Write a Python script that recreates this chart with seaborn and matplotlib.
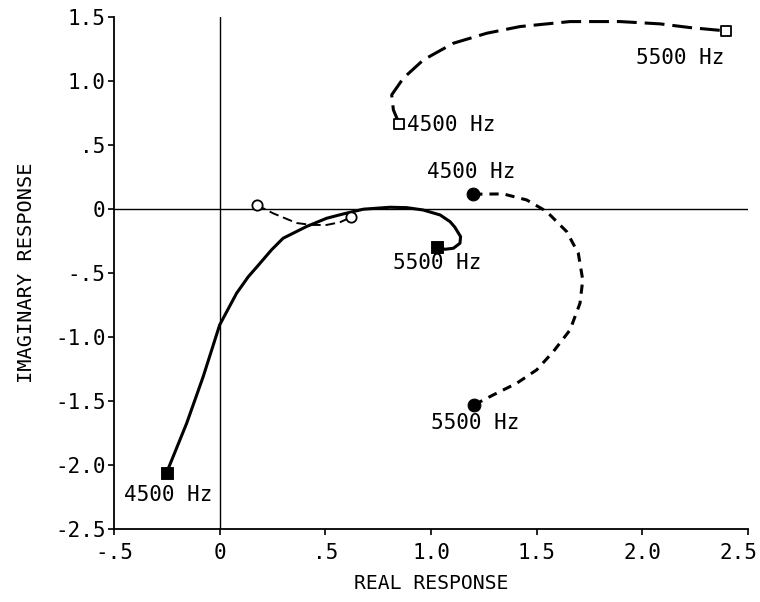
import matplotlib
matplotlib.use("Agg")
import matplotlib.pyplot as plt
import matplotlib.transforms as mtransforms
import seaborn as sns

# ---------------- data ----------------
# solid curve, filled squares (4500 Hz -> 5500 Hz)
solid_x = [-0.251, -0.156, -0.078, 0.000, 0.080, 0.135, 0.191, 0.245, 0.300, 0.410,
           0.506, 0.585, 0.680, 0.806, 0.885, 0.962, 1.043, 1.090, 1.113, 1.140,
           1.137, 1.106, 1.066, 1.027]
solid_y = [-2.058, -1.672, -1.309, -0.905, -0.658, -0.530, -0.424, -0.320, -0.229, -0.138,
           -0.073, -0.039, -0.002, 0.013, 0.010, -0.008, -0.047, -0.099, -0.143, -0.216,
           -0.268, -0.307, -0.315, -0.294]

# thin dashed curve, open circles
thin_x = [0.175, 0.254, 0.364, 0.435, 0.506, 0.569, 0.621]
thin_y = [0.031, -0.035, -0.110, -0.125, -0.125, -0.104, -0.065]

# short-dashed curve, filled circles (4500 Hz -> 5500 Hz)
dash_x = [1.200, 1.342, 1.453, 1.547, 1.642, 1.697, 1.718, 1.705, 1.658,
          1.579, 1.500, 1.406, 1.295, 1.204]
dash_y = [0.115, 0.117, 0.070, -0.020, -0.177, -0.346, -0.554, -0.736, -0.944,
          -1.113, -1.256, -1.360, -1.451, -1.529]

# long-dashed curve, open squares (4500 Hz -> 5500 Hz)
long_x = [0.850, 0.822, 0.814, 0.869, 0.964, 1.106, 1.264, 1.421, 1.658,
          1.894, 2.084, 2.226, 2.397]
long_y = [0.663, 0.773, 0.890, 1.020, 1.163, 1.293, 1.371, 1.423, 1.462,
          1.462, 1.444, 1.415, 1.389]

# annotations
label_texts = ["4500 Hz", "5500 Hz", "4500 Hz", "5500 Hz", "4500 Hz", "5500 Hz"]
label_x = [-0.242, 1.030, 1.190, 1.208, 1.097, 2.180]
label_y = [-2.230, -0.420, 0.290, -1.670, 0.655, 1.178]

xticks = [-0.5, 0, 0.5, 1.0, 1.5, 2.0, 2.5]
xtick_labels = ["-.5", "0", ".5", "1.0", "1.5", "2.0", "2.5"]
yticks = [1.5, 1.0, 0.5, 0, -0.5, -1.0, -1.5, -2.0, -2.5]
ytick_labels = ["1.5", "1.0", ".5", "0", "-.5", "-1.0", "-1.5", "-2.0", "-2.5"]

x_title = "REAL RESPONSE"
y_title = "IMAGINARY RESPONSE"

# ---------------- style ----------------
sns.set_style("ticks")
plt.rcParams["font.family"] = ["DejaVu Sans Mono", "DejaVu Sans"]

fig = plt.figure(figsize=(7.6, 6.02), dpi=100)
ax = fig.add_axes([114 / 760, 1 - 529.3 / 602, (748 - 114) / 760, (529.3 - 16.7) / 602])

# reference lines
ax.axhline(0, color="black", lw=1.0, zorder=1)
ax.axvline(0, color="black", lw=1.0, zorder=1)

lw_main = 2.2
sns.lineplot(x=solid_x, y=solid_y, sort=False, estimator=None, color="black",
             lw=lw_main, ax=ax, zorder=3)
sns.lineplot(x=thin_x, y=thin_y, sort=False, estimator=None, color="black",
             lw=1.4, linestyle=(0, (5, 2.5)), ax=ax, zorder=3)
sns.lineplot(x=dash_x, y=dash_y, sort=False, estimator=None, color="black",
             lw=lw_main, linestyle=(0, (3, 2.3)), ax=ax, zorder=3)
sns.lineplot(x=long_x, y=long_y, sort=False, estimator=None, color="black",
             lw=lw_main, linestyle=(0, (6.5, 2.6)), ax=ax, zorder=3)

# end markers
sns.scatterplot(x=[solid_x[0], solid_x[-1]], y=[solid_y[0], solid_y[-1]],
                marker="s", s=65, color="black", edgecolor="black", ax=ax, zorder=5)
sns.scatterplot(x=[thin_x[0], thin_x[-1]], y=[thin_y[0], thin_y[-1]],
                marker="o", s=55, color="white", edgecolor="black", linewidth=1.3,
                ax=ax, zorder=5)
sns.scatterplot(x=[dash_x[0], dash_x[-1]], y=[dash_y[0], dash_y[-1]],
                marker="o", s=85, color="black", edgecolor="black", ax=ax, zorder=5)
sns.scatterplot(x=[long_x[0], long_x[-1]], y=[long_y[0], long_y[-1]],
                marker="s", s=45, color="white", edgecolor="black", linewidth=1.3,
                ax=ax, zorder=5)

for t, lx, ly in zip(label_texts, label_x, label_y):
    ax.text(lx, ly, t, ha="center", va="center", fontsize=15, color="black", zorder=6)

ax.set_xlim(-0.5, 2.5)
ax.set_ylim(-2.5, 1.5)
ax.set_xticks(xticks)
ax.set_xticklabels(xtick_labels)
ax.set_yticks(yticks)
ax.set_yticklabels(ytick_labels)
ax.tick_params(direction="out", length=4, width=1.2, labelsize=15, colors="black")
ax.tick_params(axis="x", pad=6)
ax.tick_params(axis="y", pad=2)

# keep the last x tick label inside the figure
last = ax.get_xticklabels()[-1]
last.set_transform(last.get_transform() +
                   mtransforms.ScaledTranslation(-10 / 100, 0, fig.dpi_scale_trans))

for s in ["top", "right"]:
    ax.spines[s].set_visible(False)
for s in ["left", "bottom"]:
    ax.spines[s].set_linewidth(1.3)
    ax.spines[s].set_color("black")

ax.set_xlabel(x_title, fontsize=14.2, labelpad=8, color="black")
ax.set_ylabel(y_title, fontsize=14.6, labelpad=14, color="black")

fig.savefig("out.png", dpi=100)
